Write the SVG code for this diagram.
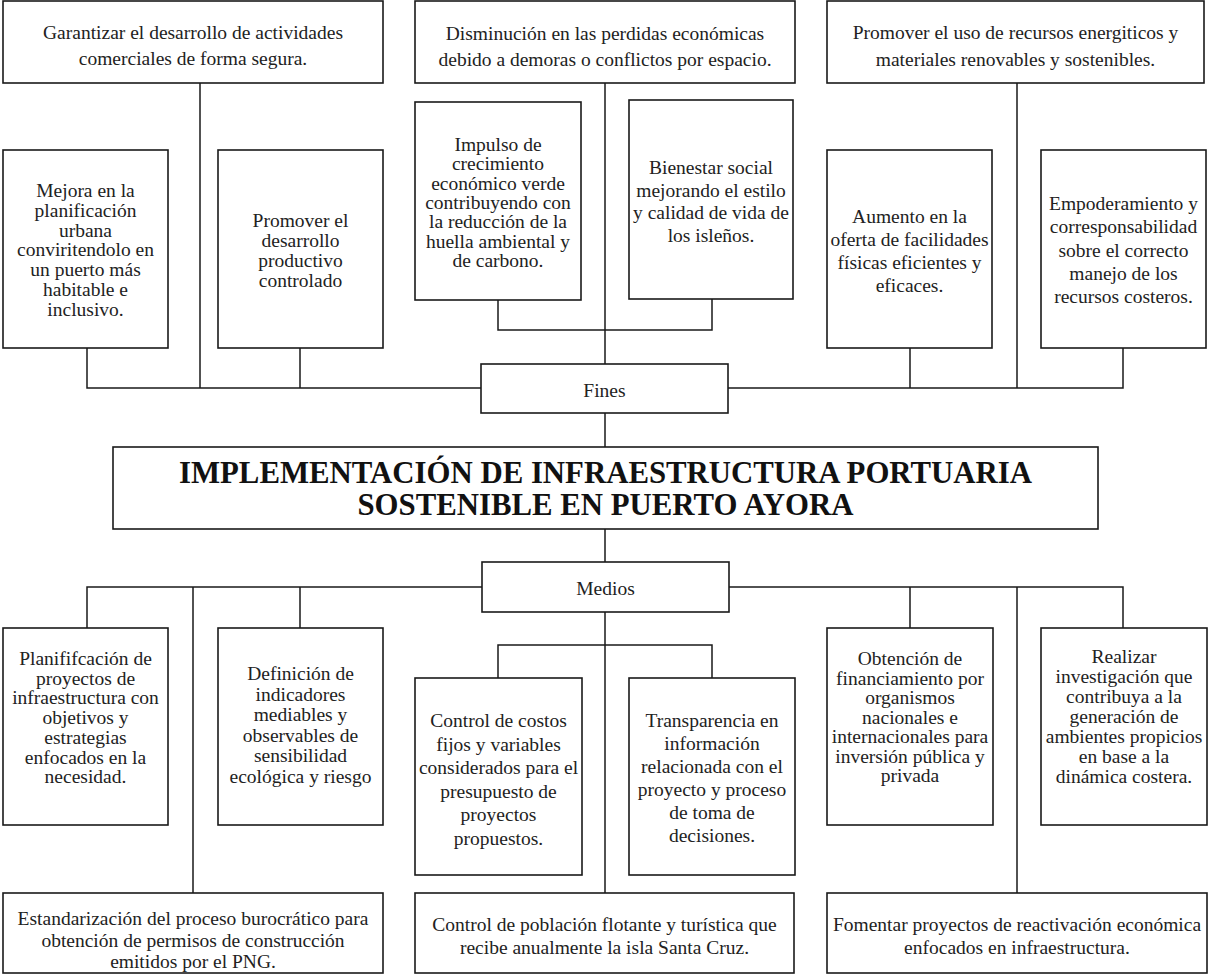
<svg xmlns="http://www.w3.org/2000/svg" width="1208" height="975" viewBox="0 0 1208 975">
<style>
.box{fill:#fff;stroke:#1a1a1a;stroke-width:1.6}
.ln{fill:none;stroke:#1a1a1a;stroke-width:1.5}
text{font-family:"Liberation Serif","Times New Roman",serif;font-size:19.5px;fill:#222;text-anchor:middle}
.title{font-size:30.8px;font-weight:bold;fill:#111}
</style>
<rect width="1208" height="975" fill="#fff"/>
<g id="connectors">
<path class="ln" d="M200 83V388M605 83V364M1017 83V388"/>
<path class="ln" d="M87 348V388H481M728 388H1123V348M300 348V388M910 348V388"/>
<path class="ln" d="M498 300V330H712V299"/>
<path class="ln" d="M605 413V447M605 529V562M605 612V893"/>
<path class="ln" d="M87 628V587H482M729 587H1123V628M300 587V628M193 587V893M910 587V628M1017 587V893"/>
<path class="ln" d="M498 678V645H712V678"/>
</g>
<g id="a1"><rect class="box" x="3" y="1" width="380" height="82"/><text x="193" y="39">Garantizar el desarrollo de actividades</text><text x="193" y="65">comerciales de forma segura.</text></g>
<g id="a2"><rect class="box" x="415" y="1" width="380" height="82"/><text x="605" y="40">Disminución en las perdidas económicas</text><text x="605" y="66">debido a demoras o conflictos por espacio.</text></g>
<g id="a3"><rect class="box" x="827" y="1" width="377" height="82"/><text x="1015.5" y="39">Promover el uso de recursos energiticos y</text><text x="1015.5" y="66">materiales renovables y sostenibles.</text></g>
<g id="b1"><rect class="box" x="3" y="150" width="165" height="198"/>
<text x="85.5" y="197">Mejora en la</text><text x="85.5" y="216.8">planificación</text><text x="85.5" y="236.6">urbana</text><text x="85.5" y="256.4">conviritendolo en</text><text x="85.5" y="276.2">un puerto más</text><text x="85.5" y="296">habitable e</text><text x="85.5" y="315.8">inclusivo.</text></g>
<g id="b2"><rect class="box" x="218" y="150" width="165" height="198"/>
<text x="300.5" y="227">Promover el</text><text x="300.5" y="247">desarrollo</text><text x="300.5" y="267">productivo</text><text x="300.5" y="287">controlado</text></g>
<g id="b3"><rect class="box" x="415" y="102" width="166" height="198"/>
<text x="498" y="151">Impulso de</text><text x="498" y="170.3">crecimiento</text><text x="498" y="189.7">económico verde</text><text x="498" y="209">contribuyendo con</text><text x="498" y="228.3">la reducción de la</text><text x="498" y="247.7">huella ambiental y</text><text x="498" y="267">de carbono.</text></g>
<g id="b4"><rect class="box" x="629" y="100" width="164" height="199"/>
<text x="711" y="174">Bienestar social</text><text x="711" y="196.5">mejorando el estilo</text><text x="711" y="219">y calidad de vida de</text><text x="711" y="242">los isleños.</text></g>
<g id="b5"><rect class="box" x="827" y="150" width="165" height="198"/>
<text x="909.5" y="223">Aumento en la</text><text x="909.5" y="246">oferta de facilidades</text><text x="909.5" y="269">físicas eficientes y</text><text x="909.5" y="292">eficaces.</text></g>
<g id="b6"><rect class="box" x="1041" y="150" width="165" height="198"/>
<text x="1123.5" y="210">Empoderamiento y</text><text x="1123.5" y="233.3">corresponsabilidad</text><text x="1123.5" y="256.6">sobre el correcto</text><text x="1123.5" y="279.9">manejo de los</text><text x="1123.5" y="303">recursos costeros.</text></g>
<g id="fines"><rect class="box" x="481" y="364" width="247" height="49"/><text x="604.5" y="397">Fines</text></g>
<g id="main"><rect class="box" x="113" y="447" width="985" height="82"/><text class="title" x="605.5" y="483">IMPLEMENTACIÓN DE INFRAESTRUCTURA PORTUARIA</text><text class="title" x="605.5" y="515">SOSTENIBLE EN PUERTO AYORA</text></g>
<g id="medios"><rect class="box" x="482" y="562" width="247" height="50"/><text x="605.5" y="595">Medios</text></g>
<g id="c1"><rect class="box" x="3" y="628" width="165" height="197"/>
<text x="85.5" y="665">Planififcación de</text><text x="85.5" y="684.7">proyectos de</text><text x="85.5" y="704.4">infraestructura con</text><text x="85.5" y="724.1">objetivos y</text><text x="85.5" y="743.8">estrategias</text><text x="85.5" y="763.5">enfocados en la</text><text x="85.5" y="783">necesidad.</text></g>
<g id="c2"><rect class="box" x="218" y="628" width="165" height="197"/>
<text x="300.5" y="680">Definición de</text><text x="300.5" y="700.6">indicadores</text><text x="300.5" y="721.2">mediables y</text><text x="300.5" y="741.8">observables de</text><text x="300.5" y="762.4">sensibilidad</text><text x="300.5" y="783">ecológica y riesgo</text></g>
<g id="c3"><rect class="box" x="415" y="678" width="167" height="197"/>
<text x="498.5" y="727">Control de costos</text><text x="498.5" y="750.6">fijos y variables</text><text x="498.5" y="774.2">considerados para el</text><text x="498.5" y="797.8">presupuesto de</text><text x="498.5" y="821.4">proyectos</text><text x="498.5" y="845">propuestos.</text></g>
<g id="c4"><rect class="box" x="629" y="678" width="166" height="197"/>
<text x="712" y="727">Transparencia en</text><text x="712" y="750">información</text><text x="712" y="773">relacionada con el</text><text x="712" y="796">proyecto y proceso</text><text x="712" y="819">de toma de</text><text x="712" y="842">decisiones.</text></g>
<g id="c5"><rect class="box" x="827" y="628" width="166" height="197"/>
<text x="910" y="665">Obtención de</text><text x="910" y="684.5">financiamiento por</text><text x="910" y="704">organismos</text><text x="910" y="723.5">nacionales e</text><text x="910" y="743">internacionales para</text><text x="910" y="762.5">inversión pública y</text><text x="910" y="782">privada</text></g>
<g id="c6"><rect class="box" x="1041" y="628" width="166" height="197"/>
<text x="1124" y="663">Realizar</text><text x="1124" y="683">investigación que</text><text x="1124" y="703">contribuya a la</text><text x="1124" y="723">generación de</text><text x="1124" y="743">ambientes propicios</text><text x="1124" y="763">en base a la</text><text x="1124" y="783">dinámica costera.</text></g>
<g id="d1"><rect class="box" x="3" y="893" width="380" height="80"/>
<text x="193" y="925">Estandarización del proceso burocrático para</text><text x="193" y="947">obtención de permisos de construcción</text><text x="193" y="968">emitidos por el PNG.</text></g>
<g id="d2"><rect class="box" x="415" y="893" width="379" height="80"/>
<text x="604.5" y="931">Control de población flotante y turística que</text><text x="604.5" y="954">recibe anualmente la isla Santa Cruz.</text></g>
<g id="d3"><rect class="box" x="827" y="893" width="380" height="80"/>
<text x="1017" y="931">Fomentar proyectos de reactivación económica</text><text x="1017" y="954">enfocados en infraestructura.</text></g>
</svg>
